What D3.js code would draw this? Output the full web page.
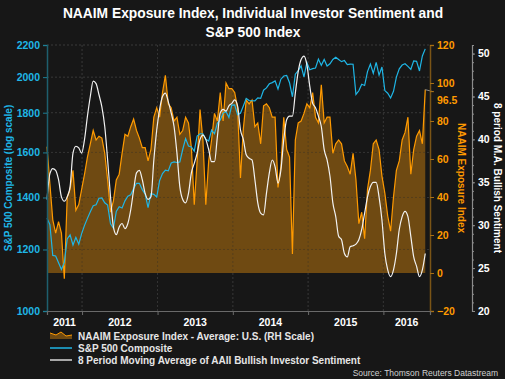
<!DOCTYPE html>
<html><head><meta charset="utf-8">
<script src="https://cdn.jsdelivr.net/npm/d3@7"></script>
<style>
html,body{margin:0;padding:0;background:#171717;}
svg{display:block;font-family:Arial,"Liberation Sans",sans-serif;}
</style></head>
<body>
<svg id="chart" width="505" height="379"></svg>
<script>
// ---- data (bi-weekly observations starting 2011-07-15) ----
const startDate = "2011-07-15";
const stepDays = 14;

const naaim = [66.5,47,28,21,27,21,-3,40,44,54,33,36,44,52,61,68,75,70,72,71,63,49,32,38,49,52,63,73,72,77,81,75,71,66,
  66,59,65,82,87,82,95,104,89,87,80,82,73,75,82,79,66,36,59,86,70,36,59,70,84,80,95,80,100,97,97,95,87,50,
  76,91,89,91,77,79,68,88,89,87,82,82,45,56,82,65,61,10,70,79,80,84,89,87,95,82,79,99,79,82,82,63,68,70,
  68,59,56,52,63,49,26,32,18,44,54,68,70,65,51,42,30,22,40,54,59,70,74,82,52,65,72,75,68,96.5];

const sp500 = [1316,1292,1179,1177,1154,1131,1155,1238,1253,1216,1244,1219,1258,
  1289,1316,1342,1366,1370,1397,1398,1378,1369,1295,1278,1343,1362,1357,1386,1405,1411,1438,1460,1460,1433,1414,1359,1416,1413,1402,
  1472,1503,1518,1515,1551,1556,1553,1555,1614,1667,1631,1626,1606,1680,1691,1691,1664,1655,1710,1691,1744,1762,1798,1806,1775,1841,
  1842,1790,1797,1836,1878,1866,1865,1864,1881,1878,1924,1937,1961,1968,1978,1931,1988,2007,2010,1967,1887,2018,2039,2068,2002,2088,
  2044,2051,2055,2110,2071,2108,2067,2081,2108,2122,2107,2094,2101,2076,2079,2078,1900,1921,1958,1951,2033,2079,2023,2090,2012,2061,
  1922,1907,1880,1918,2000,2050,2073,2081,2065,2047,2099,2096,2037,2130,2175];

const aaii = [33,36,36.6,36.4,35.3,33.3,32.8,33.3,34.5,38.4,39.2,39,38.4,40,42.7,45,46.8,46.5,45.2,43.8,41.5,37.6,33.3,29.8,28.9,29.8,30.2,29.6,30.2,31.8,34.1,36.1,36.4,35.3,
  33.7,33,33.3,37.6,41.1,43.5,45,45.4,44.4,43.1,41.5,38.4,34.5,33,32.6,33.7,36.1,37.2,38.4,40,40.5,40,38.8,37.4,37.4,40.3,43.1,43.5,43.3,43.9,44.2,44.6,43.9,41.1,
  40,38.2,37.8,37.6,35.3,32.6,31.4,31.2,33.7,36.1,37.6,36.8,34.9,36.4,40,42.3,42.7,42.7,45.4,47.9,49.3,49.7,48.7,46.2,44.2,43.7,42.7,41.5,38.8,37.6,35.7,32.6,31,28.7,
  28.3,26.7,26.3,27.5,27.6,27.8,28.3,29.5,31.4,33.3,34.5,35,35,33.3,30.6,26.7,24.8,24,24.8,26.7,29.5,31,31.6,31,28.7,26.3,25.2,24,24.8,26.7];

const years = ["2011","2012","2013","2014","2015","2016"];
const spTicks = [1000,1200,1400,1600,1800,2000,2200];
const naaimTicks = [-20,0,20,40,60,80,100,120];
const aaiiTicks = [20,25,30,35,40,45,50];
const lastLabel = "96.5";

const titleLines = ["NAAIM Exposure Index, Individual Investor Sentiment and","S&P 500 Index"];
const legendItems = ["NAAIM Exposure Index - Average: U.S. (RH Scale)","S&P 500 Composite","8 Period Moving Average of AAII Bullish Investor Sentiment"];
const sourceText = "Source: Thomson Reuters Datastream";

// ---- layout ----
const L = 47, R = 430, T = 45, B = 311;
const C_BG = "#171717", C_CYAN = "#1fb6e6", C_ORANGE = "#ff9a00", C_FILL = "#6f4a12", C_WHITE = "#f2f2f2";
const C_GRID = "#3a3a3a";
const FS = 10;

const svg = d3.select("#chart");
svg.append("rect").attr("width",505).attr("height",379).attr("fill",C_BG);

const parse = d3.timeParse("%Y-%m-%d");
const t0 = parse(startDate);
const dates = naaim.map((_,i)=>d3.timeDay.offset(t0, i*stepDays));

const x = d3.scaleTime().domain([parse("2011-07-15"), parse("2016-08-14")]).range([L,R]);
const ySP = d3.scaleLog().domain([1000,2200]).range([B,T]);
const yN = d3.scaleLinear().domain([-20,120]).range([B,T]);
const yA = d3.scaleLinear().domain([20,51]).range([B,T]);

// title
svg.selectAll("text.title").data(titleLines).join("text").attr("class","title")
  .attr("x",253).attr("y",(d,i)=>17.5+i*19).attr("text-anchor","middle")
  .attr("fill","#ffffff").attr("font-weight","bold").attr("font-size",13.8).text(d=>d);

// gridlines
const yearTicks = years.slice(1).map(y=>parse(y+"-01-01"));
const grid = svg.append("g");
grid.selectAll("line.h").data(spTicks.slice(1)).join("line")
  .attr("x1",L).attr("x2",R).attr("y1",d=>ySP(d)).attr("y2",d=>ySP(d))
  .attr("stroke",C_GRID).attr("stroke-dasharray","2,2").attr("stroke-width",1);
grid.selectAll("line.v").data(yearTicks).join("line")
  .attr("y1",T).attr("y2",B).attr("x1",d=>x(d)).attr("x2",d=>x(d))
  .attr("stroke",C_GRID).attr("stroke-dasharray","2,2").attr("stroke-width",1);

// NAAIM area + line
const nd = naaim.map((v,i)=>({d:dates[i],v}));
svg.append("path").datum(nd).attr("fill",C_FILL)
  .attr("d",d3.area().x(p=>x(p.d)).y0(yN(0)).y1(p=>yN(p.v)));
const grid2 = svg.append("g").attr("opacity",0.35);
grid2.selectAll("line.h").data(spTicks.slice(1)).join("line")
  .attr("x1",L).attr("x2",R).attr("y1",d=>ySP(d)).attr("y2",d=>ySP(d))
  .attr("stroke","#2a2a2a").attr("stroke-dasharray","2,2");
grid2.selectAll("line.v").data(yearTicks).join("line")
  .attr("y1",T).attr("y2",B).attr("x1",d=>x(d)).attr("x2",d=>x(d))
  .attr("stroke","#2a2a2a").attr("stroke-dasharray","2,2");

svg.append("path").datum(nd).attr("fill","none").attr("stroke",C_ORANGE).attr("stroke-width",1.2)
  .attr("d",d3.line().x(p=>x(p.d)).y(p=>yN(p.v)));

// S&P line
svg.append("path").datum(sp500.map((v,i)=>({d:dates[i],v}))).attr("fill","none")
  .attr("stroke",C_CYAN).attr("stroke-width",1.2)
  .attr("d",d3.line().x(p=>x(p.d)).y(p=>ySP(p.v)));

// AAII line
svg.append("path").datum(aaii.map((v,i)=>({d:dates[i],v}))).attr("fill","none")
  .attr("stroke",C_WHITE).attr("stroke-width",1.2)
  .attr("d",d3.line().curve(d3.curveMonotoneX).x(p=>x(p.d)).y(p=>yA(p.v)));

// last value connector
const lastD = dates[dates.length-1], lastV = naaim[naaim.length-1];
svg.append("line").attr("x1",x(lastD)).attr("y1",yN(lastV)).attr("x2",R+3).attr("y2",yN(lastV)+2)
  .attr("stroke","#8a8a8a").attr("stroke-width",1);

// left axis
const gL = svg.append("g").attr("transform",`translate(${L},0)`)
  .call(d3.axisLeft(ySP).tickValues(spTicks).tickFormat(d3.format("d")).tickSize(4).tickPadding(3));
gL.select(".domain").attr("stroke","#1e5f6e").attr("stroke-width",1.5);
gL.selectAll(".tick line").attr("stroke","#1e7f96");
gL.selectAll(".tick text").attr("fill",C_CYAN).attr("font-weight","bold").attr("font-size",FS+0.5).attr("font-family","Arial,'Liberation Sans',sans-serif");
svg.append("text").attr("transform","translate(12,178) rotate(-90)").attr("text-anchor","middle")
  .attr("fill",C_CYAN).attr("font-weight","bold").attr("font-size",FS).text("S&P 500 Composite (log scale)");

// right NAAIM axis
const gR = svg.append("g").attr("transform",`translate(${R},0)`)
  .call(d3.axisRight(yN).tickValues(naaimTicks).tickSize(4).tickPadding(3));
gR.select(".domain").attr("stroke","#7a5416").attr("stroke-width",1.5);
gR.selectAll(".tick line").attr("stroke","#a86f12");
gR.selectAll(".tick text").attr("fill",C_ORANGE).attr("font-weight","bold").attr("font-size",FS+0.5).attr("font-family","Arial,'Liberation Sans',sans-serif");
svg.append("line").attr("x1",R).attr("x2",R+4).attr("y1",yN(lastV)+2).attr("y2",yN(lastV)+2).attr("stroke","#a86f12");
svg.append("text").attr("x",R+7).attr("y",yN(lastV)+14).attr("fill",C_ORANGE).attr("font-weight","bold").attr("font-size",FS+0.5).text(lastLabel);
svg.append("text").attr("transform","translate(458,178) rotate(90)").attr("text-anchor","middle")
  .attr("fill",C_ORANGE).attr("font-weight","bold").attr("font-size",FS).text("NAAIM Exposure Index");

// third axis (AAII)
const AX = 472;
const gA = svg.append("g").attr("transform",`translate(${AX},0)`)
  .call(d3.axisRight(yA).tickValues(d3.range(20,51)).tickSize(2).tickFormat(""));
gA.select(".domain").attr("stroke","#8c8c8c").attr("stroke-width",1.2);
gA.selectAll(".tick line").attr("stroke","#8c8c8c");
const gA2 = svg.append("g").attr("transform",`translate(${AX},0)`)
  .call(d3.axisRight(yA).tickValues(aaiiTicks).tickSize(3).tickPadding(3));
gA2.select(".domain").remove();
gA2.selectAll(".tick line").attr("stroke","#8c8c8c");
gA2.selectAll(".tick text").attr("fill","#ffffff").attr("font-weight","bold").attr("font-size",FS+0.5).attr("font-family","Arial,'Liberation Sans',sans-serif");
svg.append("text").attr("transform","translate(494,178) rotate(90)").attr("text-anchor","middle")
  .attr("fill","#ffffff").attr("font-weight","bold").attr("font-size",FS).text("8 period M.A. Bullish Sentiment");

// bottom axis
const gB = svg.append("g").attr("transform",`translate(0,${B})`)
  .call(d3.axisBottom(x).tickValues(yearTicks).tickSize(4).tickFormat(""));
gB.select(".domain").attr("stroke","#6a6a6a").attr("stroke-width",1.2);
gB.selectAll(".tick line").attr("stroke","#6a6a6a");
const bounds = [x.domain()[0], ...yearTicks, x.domain()[1]];
svg.selectAll("text.year").data(years).join("text").attr("class","year")
  .attr("x",(d,i)=>(x(bounds[i])+x(bounds[i+1]))/2).attr("y",326).attr("text-anchor","middle")
  .attr("fill","#ffffff").attr("font-weight","bold").attr("font-size",FS+0.5).text(d=>d);

// legend
const lg = svg.append("g");
const ly = [336,348,360];
lg.append("path").attr("d",`M50,${ly[0]+3} L50,${ly[0]-3} L56,${ly[0]-1} L61,${ly[0]-4} L66,${ly[0]} L72,${ly[0]-1} L72,${ly[0]+3} Z`).attr("fill",C_FILL);
lg.append("path").attr("d",`M50,${ly[0]-3} L56,${ly[0]-1} L61,${ly[0]-4} L66,${ly[0]} L72,${ly[0]-1}`).attr("fill","none").attr("stroke",C_ORANGE).attr("stroke-width",1);
lg.append("line").attr("x1",50).attr("x2",72).attr("y1",ly[1]).attr("y2",ly[1]).attr("stroke",C_CYAN).attr("stroke-width",1.5);
lg.append("line").attr("x1",50).attr("x2",72).attr("y1",ly[2]).attr("y2",ly[2]).attr("stroke","#d8d8d8").attr("stroke-width",1.5);
lg.selectAll("text").data(legendItems).join("text").attr("x",78).attr("y",(d,i)=>ly[i]+4)
  .attr("fill","#e6e6e6").attr("font-weight","bold").attr("font-size",FS).text(d=>d);

svg.append("text").attr("x",498).attr("y",376).attr("text-anchor","end").attr("fill","#d0d0d0")
  .attr("font-size",8.5).text(sourceText);
</script>
</body></html>
